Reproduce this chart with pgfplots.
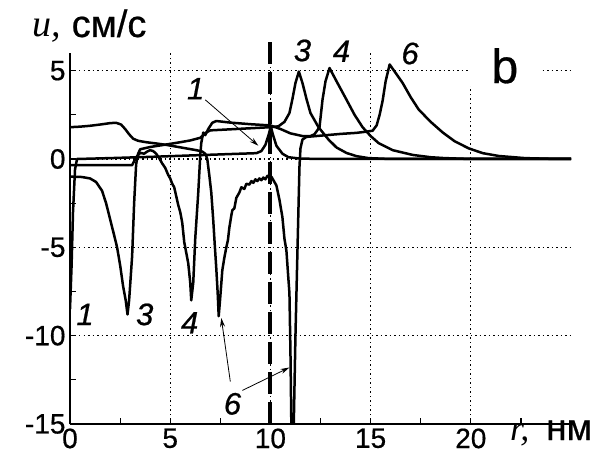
\documentclass[border=0pt]{standalone}
\usepackage{pgfplots}
\pgfplotsset{compat=1.18}
\usetikzlibrary{arrows.meta}
\usepackage{fontspec}
\setmainfont{Liberation Sans}[FakeBold=0.6]
\newfontfamily\tnr{Liberation Serif}
\begin{document}
\begin{tikzpicture}
\useasboundingbox (-70pt,-39pt) rectangle (545pt,424pt);
\begin{axis}[
  at={(0pt,0pt)}, anchor=south west,
  scale only axis, width=501pt, height=371pt,
  xmin=0, xmax=25, ymin=-15, ymax=6,
  axis x line=bottom, axis y line=left,
  axis line style={-, line width=1.3pt, black},
  xtick={0,5,10,15,20}, xticklabels={0,5,10,15,20},
  ytick={-15,-10,-5,0,5}, yticklabels={-15,-10,-5,0,5},
  minor xtick={2.5,7.5,12.5,17.5,22.5},
  minor ytick={-12.5,-7.5,-2.5,2.5},
  tick align=inside, major tick length=6pt, minor tick length=6pt,
  tick style={line width=1.2pt, black},
  grid=major,
  major grid style={line width=1.3pt, black, dash pattern=on 1.5pt off 3pt},
  every tick label/.append style={font=\fontsize{28}{30}\selectfont},
  xticklabel style={yshift=-1pt},
  yticklabel style={xshift=-1pt},
  every axis plot/.append style={line width=2.5pt, black, line join=round},
]
% curve 1
\addplot[mark=none] coordinates {
(0,-8.5)(0.08,-6)(0.15,-3)(0.25,-0.6)(0.35,0)(2,0.05)(4,0.12)(6,0.2)(8,0.28)(9.3,0.33)(9.55,0.45)(9.75,0.8)(9.92,1.4)(10.02,1.85)(10.12,1.4)(10.3,0.75)(10.6,0.3)(10.9,0.1)(11.5,0.02)(13,0)(25,0)};
% curve 3
\addplot[mark=none] coordinates {
(0,-1.0)(0.6,-1.02)(1.0,-1.1)(1.3,-1.3)(1.6,-1.8)(1.8,-2.5)(2.0,-3.4)(2.2,-4.3)(2.35,-5.0)(2.5,-6.0)(2.65,-7.2)(2.78,-8.0)(2.87,-8.8)(2.95,-8.0)(3.1,-5.5)(3.2,-2.5)(3.3,-0.3)(3.4,0.3)(3.5,0.55)(4.0,0.68)(4.8,0.82)(5.5,0.95)(6.0,1.05)(6.5,1.2)(6.8,1.5)(7.0,1.62)(8,1.68)(9,1.74)(10,1.8)(10.4,1.85)(10.7,2.1)(10.95,2.6)(11.1,3.4)(11.25,4.3)(11.42,4.95)(11.6,4.3)(11.8,3.4)(12.0,2.6)(12.4,1.8)(12.9,1.1)(13.3,0.65)(13.8,0.34)(14.3,0.16)(14.9,0.05)(16,0)(25,0)};
% curve 4
\addplot[mark=none] coordinates {
(0,-0.35)(3.1,-0.35)(3.3,0.1)(3.5,0.35)(3.7,0.3)(3.85,0.42)(4.0,0.5)(4.15,0.45)(4.3,0.3)(4.45,0.05)(4.6,-0.25)(4.75,-0.5)(4.9,-0.9)(5.0,-1.1)(5.1,-1.4)(5.2,-1.6)(5.3,-2.1)(5.4,-2.6)(5.5,-3.0)(5.6,-3.6)(5.7,-4.7)(5.8,-5.3)(5.9,-5.9)(6.0,-7.0)(6.05,-8.0)(6.15,-7.0)(6.25,-4.5)(6.4,-1.9)(6.5,0.2)(6.55,0.9)(6.65,1.5)(6.75,1.35)(6.9,1.7)(7.1,2.05)(7.3,2.15)(8,2.06)(9,1.97)(10,1.9)(10.5,1.7)(11,1.45)(11.6,1.3)(12.0,1.3)(12.2,1.4)(12.45,1.8)(12.6,3.35)(12.75,4.4)(12.95,5.15)(13.3,4.4)(13.8,3.35)(14.2,2.5)(14.6,1.8)(15.0,1.3)(15.4,0.9)(16.1,0.5)(17.1,0.23)(18.0,0.1)(18.7,0.05)(20,0)(25,0)};
% curve 6
\addplot[mark=none] coordinates {
(0,1.8)(0.5,1.83)(1,1.88)(1.5,1.95)(2.0,2.03)(2.3,2.05)(2.55,1.95)(2.75,1.7)(2.95,1.4)(3.15,1.15)(3.4,1.03)(3.8,0.95)(4.3,0.88)(4.8,0.8)(5.3,0.7)(5.8,0.6)(6.3,0.5)(6.6,0.42)(6.75,0.3)(6.85,0.0)(6.95,-0.9)(7.05,-1.9)(7.15,-3.5)(7.22,-4.8)(7.3,-6.2)(7.37,-7.6)(7.42,-8.9)(7.5,-7.8)(7.6,-6.3)(7.7,-5.6)(7.8,-5.0)(7.88,-4.6)(7.95,-3.9)(8.05,-3.2)(8.1,-2.9)(8.2,-2.8)(8.3,-2.2)(8.45,-1.9)(8.55,-1.6)(8.7,-1.7)(8.8,-1.4)(8.95,-1.45)(9.05,-1.25)(9.15,-1.35)(9.25,-1.15)(9.35,-1.25)(9.45,-1.1)(9.55,-1.2)(9.65,-1.05)(9.75,-1.15)(9.85,-0.95)(9.95,-1.05)(10.05,-1.0)(10.15,-1.2)(10.3,-1.5)(10.45,-2.3)(10.6,-3.3)(10.7,-4.5)(10.8,-5.2)(10.88,-6.5)(10.95,-7.6)(11.0,-10.9)(11.05,-15.5)(11.15,-16)(11.25,-10)(11.35,-5.2)(11.45,-0.45)(11.5,0.6)(11.6,1.1)(11.8,1.25)(12.5,1.32)(13.5,1.42)(14.3,1.48)(14.8,1.55)(15.1,1.6)(15.3,1.9)(15.45,2.5)(15.6,3.3)(15.75,4.4)(15.95,5.35)(16.2,4.95)(16.6,4.3)(17.0,3.5)(17.4,2.8)(18.0,2.1)(18.6,1.5)(19.2,1.0)(19.9,0.6)(20.6,0.33)(21.4,0.17)(22.7,0.05)(24,0.01)(25,0)};
\coordinate (d0) at (axis cs:10,6.6);
\coordinate (d1) at (axis cs:10,-15);
\coordinate (l1t) at (axis cs:6.27,3.98);
\coordinate (l3t) at (axis cs:11.6,6.14);
\coordinate (l4t) at (axis cs:13.55,6.1);
\coordinate (l6t) at (axis cs:16.97,5.97);
\coordinate (l1b) at (axis cs:0.75,-8.8);
\coordinate (l3b) at (axis cs:3.73,-8.8);
\coordinate (l4b) at (axis cs:5.97,-9.27);
\coordinate (l6b) at (axis cs:8.11,-13.86);
\coordinate (a1s) at (axis cs:6.75,3.35);
\coordinate (a1e) at (axis cs:9.4,0.75);
\coordinate (a6s) at (axis cs:8.0,-12.6);
\coordinate (a6e) at (axis cs:7.55,-9.0);
\coordinate (a7s) at (axis cs:8.6,-13.1);
\coordinate (a7e) at (axis cs:10.95,-11.8);
\coordinate (bpos) at (axis cs:21.7,4.3);
\end{axis}
\draw[line width=4pt, dash pattern=on 22pt off 8pt] (d0) -- (d1);
\begin{scope}[every node/.style={font=\fontsize{31}{31}\selectfont\itshape, inner sep=0pt}]
\node at (l1t) {1};
\node at (l3t) {3};
\node at (l4t) {4};
\node at (l6t) {6};
\node at (l1b) {1};
\node at (l3b) {3};
\node at (l4b) {4};
\node at (l6b) {6};
\end{scope}
\draw[line width=0.8pt, -{Stealth[length=9pt,width=5pt]}] (a1s) -- (a1e);
\draw[line width=0.8pt, -{Stealth[length=9pt,width=5pt]}] (a6s) -- (a6e);
\draw[line width=0.8pt, -{Stealth[length=9pt,width=5pt]}] (a7s) -- (a7e);
\node[anchor=base, fill=white, inner xsep=22pt, inner ysep=3pt, font=\fontsize{48}{48}\selectfont] at (bpos) {b};
\node[anchor=base west, inner sep=0pt] at (-38pt,387pt) {\fontsize{38}{38}\selectfont\tnr\itshape u,\hspace{11pt}\upshape\fontsize{38}{38}\selectfont\rmfamily см/с};
\node[anchor=base west, inner sep=0pt] at (440pt,-16pt) {\fontsize{36}{36}\selectfont\tnr\itshape r,\hspace{17pt}\upshape\fontsize{37}{37}\selectfont\rmfamily нм};
\end{tikzpicture}
\end{document}
